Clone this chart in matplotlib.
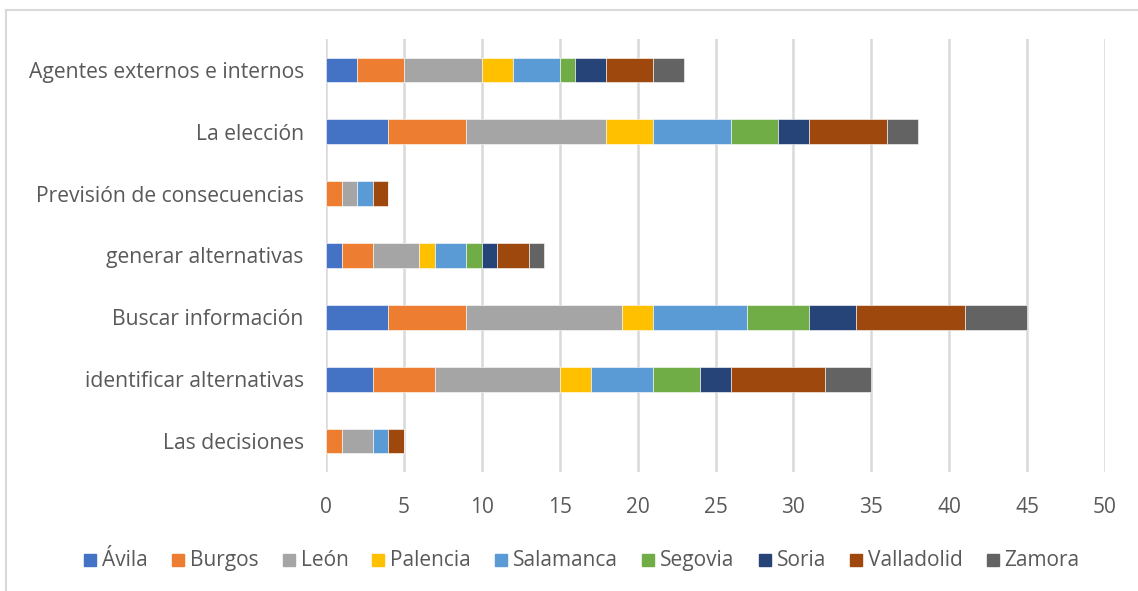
import matplotlib
matplotlib.use("Agg")
import matplotlib.pyplot as plt
from matplotlib.lines import Line2D
from matplotlib.patches import Rectangle
import numpy as np

categories = ["Las decisiones", "identificar alternativas", "Buscar información",
              "generar alternativas", "Previsión de consecuencias", "La elección",
              "Agentes externos e internos"]
series = ["Ávila", "Burgos", "León", "Palencia", "Salamanca", "Segovia", "Soria", "Valladolid", "Zamora"]
avila      = [0, 3, 4, 1, 0, 4, 2]
burgos     = [1, 4, 5, 2, 1, 5, 3]
leon       = [2, 8, 10, 3, 1, 9, 5]
palencia   = [0, 2, 2, 1, 0, 3, 2]
salamanca  = [1, 4, 6, 2, 1, 5, 3]
segovia    = [0, 3, 4, 1, 0, 3, 1]
soria      = [0, 2, 3, 1, 0, 2, 2]
valladolid = [1, 6, 7, 2, 1, 5, 3]
zamora     = [0, 3, 4, 1, 0, 2, 2]
xticks = [0, 5, 10, 15, 20, 25, 30, 35, 40, 45, 50]

values = [avila, burgos, leon, palencia, salamanca, segovia, soria, valladolid, zamora]
colors = ["#4472C4", "#ED7D31", "#A5A5A5", "#FFC000", "#5B9BD5", "#70AD47", "#264478", "#9E480E", "#636363"]

plt.rcParams['font.family'] = ['Open Sans', 'DejaVu Sans']

W, H = 1138, 591
fig = plt.figure(figsize=(W / 100, H / 100), dpi=100)
ax = fig.add_axes([326/W, 1 - 472/H, (1105-326)/W, (472-39)/H])

y = np.arange(len(categories))
left = np.zeros(len(categories))
for name, vals, col in zip(series, values, colors):
    v = np.array(vals, dtype=float)
    ax.barh(y, v, left=left, height=0.4, color=col, label=name, edgecolor="white", linewidth=0.4, zorder=3)
    left += v

ax.set_xlim(0, 50)
ax.set_ylim(-0.5, len(categories) - 0.5)
ax.set_xticks(xticks)
ax.set_xticklabels([str(t) for t in xticks], fontsize=15, color="#595959")
ax.set_yticks(y)
ax.set_yticklabels(categories, fontsize=15.2, color="#595959")
ax.tick_params(axis='both', length=0)
ax.tick_params(axis='x', pad=18)
ax.tick_params(axis='y', pad=16)
ax.grid(axis='x', color="#D9D9D9", linewidth=1.8, zorder=0)
for s in ax.spines.values():
    s.set_visible(False)

# Legend drawn as a single row of squares + baseline-aligned labels
renderer = fig.canvas.get_renderer()
sq, gap, colgap = 12, 6, 24
baseline = 566
texts = [fig.text(0, 1 - baseline / H, s, fontsize=15, color="#595959", va='baseline', ha='left')
         for s in series]
widths = [t.get_window_extent(renderer).width for t in texts]
total = sum(sq + gap + w for w in widths) + colgap * (len(series) - 1)
x = 582 - total / 2
for t, w, c in zip(texts, widths, colors):
    fig.add_artist(Rectangle((x / W, 1 - baseline / H), sq / W, sq / H,
                             transform=fig.transFigure, color=c))
    t.set_x((x + sq + gap) / W)
    x += sq + gap + w + colgap

# Chart-area frame (top and left edges visible in the crop)
fig.add_artist(Line2D([6/W, 6/W], [0, 1 - 10/H], transform=fig.transFigure, color="#D9D9D9", linewidth=1.5))
fig.add_artist(Line2D([6/W, 1], [1 - 10/H, 1 - 10/H], transform=fig.transFigure, color="#D9D9D9", linewidth=1.5))

fig.savefig("out.png", dpi=100)
